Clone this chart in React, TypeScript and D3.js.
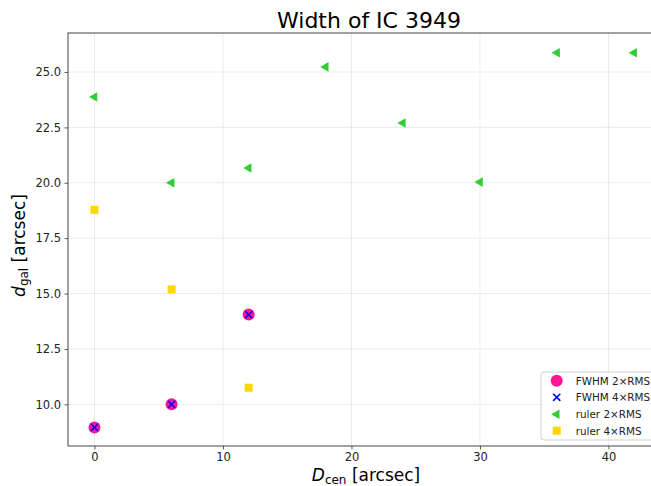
import React, { useEffect, useRef } from "react";
import * as d3 from "d3";

// Sampled distances from the centre [arcsec]
const fwhm2X = [0, 6, 12];
const fwhm2Y = [8.96, 10.0, 14.05];
const fwhm4X = [0, 6, 12];
const fwhm4Y = [8.96, 10.0, 14.05];
const ruler2X = [0, 6, 12, 18, 24, 30, 36, 42];
const ruler2Y = [23.87, 20.0, 20.67, 25.23, 22.7, 20.03, 25.87, 25.87];
const ruler4X = [0, 6, 12];
const ruler4Y = [18.78, 15.19, 10.75];

const xTicks = [0, 10, 20, 30, 40];
const yTicks = [10.0, 12.5, 15.0, 17.5, 20.0, 22.5, 25.0];

const legendLabels = ["FWHM 2×RMS", "FWHM 4×RMS", "ruler 2×RMS", "ruler 4×RMS"];

const W = 651;
const H = 486;
const FONT = "DejaVu Sans, sans-serif";

export default function App() {
  const ref = useRef<SVGSVGElement | null>(null);

  useEffect(() => {
    const svg = d3.select(ref.current);
    svg.selectAll("*").remove();

    const left = 68, right = 660, top = 33, bottom = 446;
    const x = d3.scaleLinear().domain([-2.06, 44.01]).range([left, right]);
    const y = d3.scaleLinear().domain([8.12, 26.76]).range([bottom, top]);

    svg.append("rect").attr("width", W).attr("height", H).attr("fill", "#fff");

    // grid
    const grid = svg.append("g");
    grid.selectAll("line.gx").data(xTicks).join("line")
      .attr("x1", d => x(d)).attr("x2", d => x(d))
      .attr("y1", top).attr("y2", bottom)
      .attr("stroke", "#e6e6e6").attr("stroke-width", 0.8);
    grid.selectAll("line.gy").data(yTicks).join("line")
      .attr("x1", left).attr("x2", right)
      .attr("y1", d => y(d)).attr("y2", d => y(d))
      .attr("stroke", "#e6e6e6").attr("stroke-width", 0.8);

    // axes
    const xAxis = d3.axisBottom(x).tickValues(xTicks).tickFormat(d3.format("d")).tickSizeOuter(0).tickSize(3.5).tickPadding(3.5);
    const yAxis = d3.axisLeft(y).tickValues(yTicks).tickFormat(d3.format(".1f")).tickSizeOuter(0).tickSize(3.5).tickPadding(3.5);
    const gx = svg.append("g").attr("transform", `translate(0,${bottom})`).call(xAxis);
    const gy = svg.append("g").attr("transform", `translate(${left},0)`).call(yAxis);
    [gx, gy].forEach(g => {
      g.select(".domain").remove();
      g.selectAll("line").attr("stroke", "#333").attr("stroke-width", 0.8);
      g.selectAll("text").attr("fill", "#222").style("font-family", FONT).style("font-size", "11.5px");
    });

    // spines
    svg.append("rect").attr("x", left).attr("y", top)
      .attr("width", right - left).attr("height", bottom - top)
      .attr("fill", "none").attr("stroke", "#444").attr("stroke-width", 1);

    const plot = svg.append("g");

    // FWHM 2xRMS circles
    plot.selectAll("circle.f2").data(fwhm2X.map((v, i) => [v, fwhm2Y[i]])).join("circle")
      .attr("cx", d => x(d[0])).attr("cy", d => y(d[1])).attr("r", 6)
      .attr("fill", "#ff1493");

    // FWHM 4xRMS crosses
    const cross = (cx: number, cy: number, s: number) =>
      `M${cx - s},${cy - s}L${cx + s},${cy + s}M${cx - s},${cy + s}L${cx + s},${cy - s}`;
    plot.selectAll("path.f4").data(fwhm4X.map((v, i) => [v, fwhm4Y[i]])).join("path")
      .attr("d", d => cross(x(d[0]), y(d[1]), 3.6))
      .attr("stroke", "#0000ff").attr("stroke-width", 1.6).attr("fill", "none");

    // ruler 2xRMS left-pointing triangles
    const tri = d3.symbol().type(d3.symbolTriangle).size(40)();
    plot.selectAll("path.r2").data(ruler2X.map((v, i) => [v, ruler2Y[i]])).join("path")
      .attr("d", tri)
      .attr("transform", d => `translate(${x(d[0])},${y(d[1])}) rotate(-90)`)
      .attr("fill", "#32cd32");

    // ruler 4xRMS squares
    plot.selectAll("rect.r4").data(ruler4X.map((v, i) => [v, ruler4Y[i]])).join("rect")
      .attr("x", d => x(d[0]) - 4).attr("y", d => y(d[1]) - 4)
      .attr("width", 8).attr("height", 8)
      .attr("fill", "#ffd700");

    // title and labels
    svg.append("text").attr("x", 369).attr("y", 28).attr("text-anchor", "middle")
      .style("font-family", FONT).style("font-size", "22px").attr("fill", "#000")
      .text("Width of IC 3949");

    const xl = svg.append("text").attr("x", 366).attr("y", 481).attr("text-anchor", "middle")
      .style("font-family", FONT).style("font-size", "17px").attr("fill", "#000");
    xl.append("tspan").style("font-style", "italic").text("D");
    xl.append("tspan").attr("dy", 3).style("font-size", "12px").text("cen");
    xl.append("tspan").attr("dy", -3).text(" [arcsec]");

    const yl = svg.append("text")
      .attr("transform", `translate(25,${top + (bottom - top) / 2 + 6}) rotate(-90)`)
      .attr("text-anchor", "middle")
      .style("font-family", FONT).style("font-size", "17px").attr("fill", "#000");
    yl.append("tspan").style("font-style", "italic").text("d");
    yl.append("tspan").attr("dy", 3).style("font-size", "12px").text("gal");
    yl.append("tspan").attr("dy", -3).text(" [arcsec]");

    // legend
    const lg = svg.append("g").attr("transform", "translate(541,372)");
    lg.append("rect").attr("width", 125).attr("height", 68).attr("rx", 3)
      .attr("fill", "#fff").attr("fill-opacity", 0.8).attr("stroke", "#d0d0d0");
    const rows = [8.7, 25.3, 42.3, 58.7];
    const mx = 15.7;
    lg.append("circle").attr("cx", mx).attr("cy", rows[0]).attr("r", 6).attr("fill", "#ff1493");
    lg.append("path").attr("d", cross(mx, rows[1], 3.6)).attr("stroke", "#0000ff").attr("stroke-width", 1.6);
    lg.append("path").attr("d", tri).attr("transform", `translate(${mx},${rows[2]}) rotate(-90)`).attr("fill", "#32cd32");
    lg.append("rect").attr("x", mx - 4).attr("y", rows[3] - 4).attr("width", 8).attr("height", 8).attr("fill", "#ffd700");
    lg.selectAll("text.l").data(legendLabels).join("text")
      .attr("x", 34.7).attr("y", (_, i) => rows[i] + 4)
      .style("font-family", FONT).style("font-size", "10.4px").attr("fill", "#222")
      .text(d => d);
  }, []);

  return (
    <div style={{ position: "absolute", left: 0, top: 0 }}>
      <svg ref={ref} width={W} height={H} style={{ display: "block" }} />
    </div>
  );
}
